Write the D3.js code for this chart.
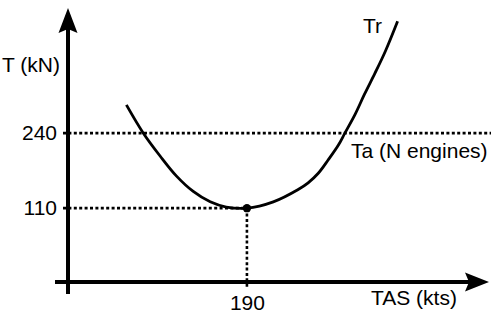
<!DOCTYPE html>
<html>
<head>
<meta charset="utf-8">
<script src="https://cdn.jsdelivr.net/npm/d3@7"></script>
<style>
  html, body { margin: 0; padding: 0; background: #fff; }
  svg { display: block; }
  text { font-family: "Liberation Sans", Arial, sans-serif; font-size: 21px; fill: #000; }
</style>
</head>
<body>
<svg id="chart" width="491" height="326"></svg>
<script>
// ─── Data ─────────────────────────────────────────
// Thrust required curve (TAS in kts, T in kN)
const tas = [62, 80, 98, 115, 133, 151, 168, 190, 218, 244, 255, 266, 276, 287, 294, 305, 315, 326, 337, 350];
const thrustReq = [289, 240, 200, 166, 139, 121, 112, 110, 121, 142, 154, 171, 193, 219, 240, 273, 308, 344, 382, 434];
const thrustAvail = 240;       // Ta (N engines)
const minDrag = { tas: 190, t: 110 };
const yTicks = [110, 240];
const xTicks = [190];

(function () {
  'use strict';

  const svg = d3.select('#chart');
  const W = 491;

  const x = d3.scaleLinear().domain([0, 446]).range([68, 488]);
  const y = d3.scaleLinear().domain([-18, 457]).range([282, 8]);

  const x0 = x(0), y0 = y(-18);

  // ─── Guides ───────────────────────────────────────

  const guides = svg.append('g')
    .attr('stroke', '#000')
    .attr('stroke-width', 2.6)
    .attr('stroke-dasharray', '3,2.4')
    .attr('fill', 'none');

  yTicks.forEach(function (v) {
    guides.append('line')
      .attr('x1', x0 - 5).attr('x2', v === thrustAvail ? W : x(minDrag.tas))
      .attr('y1', y(v)).attr('y2', y(v));
  });

  guides.append('line')
    .attr('x1', x(minDrag.tas)).attr('x2', x(minDrag.tas))
    .attr('y1', y(minDrag.t)).attr('y2', y0 + 7);

  // ─── Axes ─────────────────────────────────────────

  const axes = svg.append('g').attr('stroke', '#000').attr('stroke-width', 4);
  axes.append('line').attr('x1', x0).attr('x2', x0).attr('y1', y0 + 12).attr('y2', 24);
  axes.append('line').attr('x1', x0 - 13).attr('x2', x(446) - 16).attr('y1', y0).attr('y2', y0);

  // arrow heads
  svg.append('path')
    .attr('d', `M${x0},${y(457)} L${x0 + 9.5},${y(457) + 25} L${x0},${y(457) + 21} L${x0 - 9.5},${y(457) + 25} Z`)
    .attr('fill', '#000');
  const xe = x(446) + 1;
  svg.append('path')
    .attr('d', `M${xe},${y0} L${xe - 24},${y0 - 9.5} L${xe - 20},${y0} L${xe - 24},${y0 + 9.5} Z`)
    .attr('fill', '#000');

  // tick labels
  const yAxis = svg.append('g')
    .attr('transform', `translate(${x0},0)`)
    .call(d3.axisLeft(y).tickValues(yTicks).tickSize(0).tickPadding(11));
  const xAxis = svg.append('g')
    .attr('transform', `translate(0,${y0})`)
    .call(d3.axisBottom(x).tickValues(xTicks).tickSize(0).tickPadding(13).tickFormat(d3.format('d')));
  [yAxis, xAxis].forEach(function (g) {
    g.select('.domain').remove();
    g.attr('font-size', null).attr('font-family', null);
    g.selectAll('.tick text').attr('fill', '#000');
  });

  // ─── Curve ────────────────────────────────────────

  const line = d3.line()
    .x(function (d, i) { return x(tas[i]); })
    .y(function (d) { return y(d); })
    .curve(d3.curveCatmullRom.alpha(0.5));

  svg.append('path')
    .datum(thrustReq)
    .attr('d', line)
    .attr('fill', 'none')
    .attr('stroke', '#000')
    .attr('stroke-width', 2.8);

  svg.append('circle')
    .attr('cx', x(minDrag.tas)).attr('cy', y(minDrag.t))
    .attr('r', 4.2).attr('fill', '#000');

  // ─── Labels ───────────────────────────────────────

  const labels = [
    { text: 'T (kN)', x: 2, y: 72 },
    { text: 'Tr', x: 363, y: 33 },
    { text: 'Ta (N engines)', x: 351, y: 158 },
    { text: 'TAS (kts)', x: 371, y: 305 }
  ];
  labels.forEach(function (item) {
    svg.append('text').attr('x', item.x).attr('y', item.y).text(item.text);
  });
})();
</script>
</body>
</html>
